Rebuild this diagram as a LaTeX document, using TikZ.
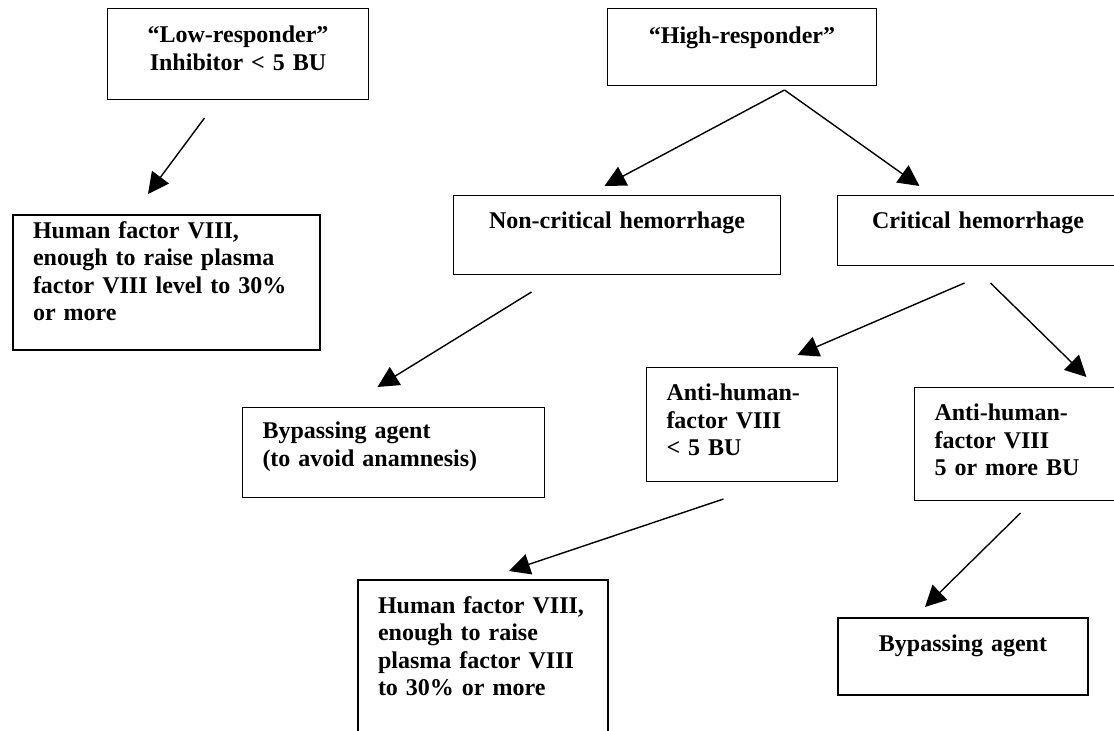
\documentclass[tikz,border=0pt]{standalone}
\usepackage{fontspec}
\setmainfont{Liberation Serif}
\usepackage{tikz}
\usetikzlibrary{arrows.meta}

\begin{document}
\begin{tikzpicture}[
  x=1pt, y=-1pt,
  box/.style={
    rectangle,
    draw,
    anchor=north west,
    inner xsep=20pt,
    inner ysep=0pt,
    text height=33pt,
    line width=1pt,
    font=\fontsize{24}{27.6}\selectfont\bfseries
  },
  heavy/.style={line width=2pt},
  arrow/.style={-{Triangle[length=21pt, width=21pt]}, line width=1.4pt}
]
  \useasboundingbox (0,0) rectangle (1114,731);
  \clip (0,0) rectangle (1114,731);

  % Nodes
  \node (low) [box, text width=221pt, align=center, text height=34pt, text depth=57pt] at (107,8) {“Low-responder”\\Inhibitor < 5 BU};
  \node (high) [box, text width=229pt, align=center, text height=35pt, text depth=42pt] at (607,8) {“High-responder”};

  \node (hfl) [box, heavy, text width=267pt, align=left, text height=23pt, text depth=112pt] at (12,214) {Human factor VIII,\\enough to raise plasma\\factor VIII level to 30\%\\or more};
  \node (noncrit) [box, text width=287pt, align=center, text depth=46pt] at (453,195) {Non-critical hemorrhage};
  \node (crit) [box, text width=241pt, align=center, text depth=37pt] at (837,195) {Critical hemorrhage};

  \node (bypassa) [box, text width=262pt, align=left, text height=31pt, text depth=59pt] at (242,407) {Bypassing agent\\(to avoid anamnesis)};
  \node (antilow) [box, text width=151pt, align=left, text depth=81pt] at (646,367) {Anti-human-\\factor VIII\\< 5 BU};
  \node (antihigh) [box, text width=166pt, align=left, text depth=80pt] at (914,387) {Anti-human-\\factor VIII\\5 or more BU};

  \node (hfr) [box, heavy, text width=210pt, align=left, text depth=200pt] at (357,579) {Human factor VIII,\\enough to raise\\plasma factor VIII\\to 30\% or more};
  \node (bypassb) [box, heavy, text width=210pt, align=center, text depth=44pt] at (837,617) {Bypassing agent};

  % Arrows
  \draw [arrow] ([shift={(-33.5,18)}]low.south) -- ([shift={(-18.5,-20)}]hfl.north);
  \draw [arrow] ([shift={(42.5,4)}]high.south) -- ([shift={(-12.5,-9)}]noncrit.north);
  \draw [arrow] ([shift={(42.5,4)}]high.south) -- ([shift={(-58.5,-9)}]crit.north);
  \draw [arrow] ([shift={(-85.5,17)}]noncrit.south) -- ([shift={(-16,-20)}]bypassa.north);
  \draw [arrow] ([shift={(-13.5,17)}]crit.south) -- ([shift={(55.5,-12)}]antilow.north);
  \draw [arrow] ([shift={(12.5,17)}]crit.south) -- ([shift={(69,-10)}]antihigh.north);
  \draw [arrow] ([shift={(-18.5,17)}]antilow.south) -- ([shift={(26,-8)}]hfr.north);
  \draw [arrow] ([shift={(3,12)}]antihigh.south) -- ([shift={(-38,-10)}]bypassb.north);

\end{tikzpicture}
\end{document}
